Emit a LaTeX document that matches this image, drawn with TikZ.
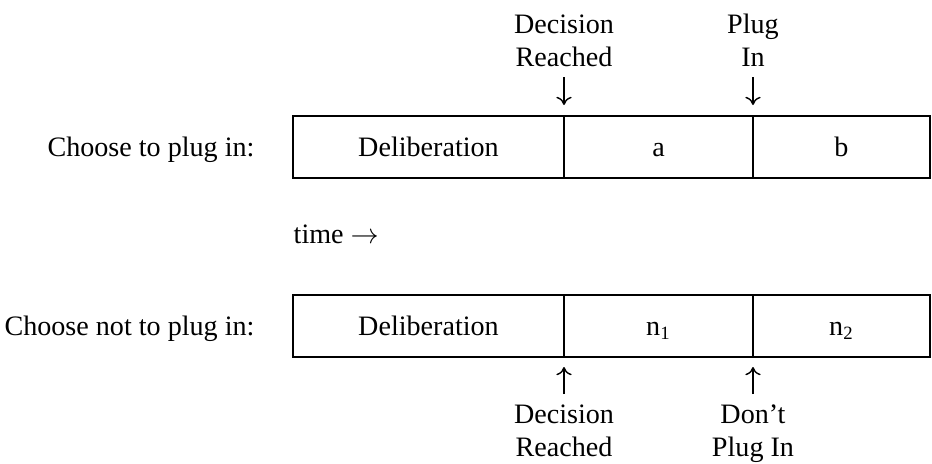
\documentclass[tikz,border=0pt]{standalone}
\usepackage{fontspec}
\setmainfont{Liberation Serif}
\usetikzlibrary{positioning,arrows.meta}

\tikzset{
  seg/.style={draw, line width=0.9pt, inner sep=0pt, outer sep=0pt,
    minimum height=0.92cm, text height=8pt, text depth=0pt},
  lbl/.style={align=center, inner sep=0pt, outer sep=4.5pt},
}

\begin{document}
\begin{tikzpicture}[x=0.015cm, y=-0.015cm, font=\fontsize{12}{14.1}\selectfont,
    >={To[length=3.5pt,width=6.5pt]}, line width=0.6pt]
\useasboundingbox (0,0) rectangle (932,463);
% choose to plug in
\node (choosePlug) [anchor=base east] at (263,156) {Choose to plug in:};
\node (delibA) [seg, minimum width=4.065cm, anchor=west] at (293,147) {Deliberation};
\node (segA) [seg, minimum width=2.835cm, right=0pt of delibA] {a};
\node (segB) [seg, minimum width=2.655cm, right=0pt of segA] {b};
\node (decTop) [lbl, anchor=south] at (564,77) {Decision\\Reached};
\node (plugTop) [lbl, anchor=south] at (753,77) {Plug\\In};
\coordinate (decTipA) at (564,105);
\coordinate (plugTipA) at (753,105);
\draw[->] (decTop) -- (decTipA);
\draw[->] (plugTop) -- (plugTipA);

\node (time) [anchor=base west, inner sep=0pt] at (293,243) {time $\rightarrow$};

% choose not to plug in
\node (chooseNo) [anchor=base east] at (263,335) {Choose not to plug in:};
\node (delibB) [seg, minimum width=4.065cm, anchor=west] at (293,326) {Deliberation};
\node (segN1) [seg, minimum width=2.835cm, right=0pt of delibB] {n\textsubscript{1}};
\node (segN2) [seg, minimum width=2.655cm, right=0pt of segN1] {n\textsubscript{2}};
\node (decBot) [lbl, anchor=north] at (564,394) {Decision\\Reached};
\node (dontBot) [lbl, anchor=north] at (753,394) {Don’t\\Plug In};
\coordinate (decTipB) at (564,367);
\coordinate (dontTipB) at (753,367);
\draw[->] (decBot) -- (decTipB);
\draw[->] (dontBot) -- (dontTipB);
\end{tikzpicture}
\end{document}
